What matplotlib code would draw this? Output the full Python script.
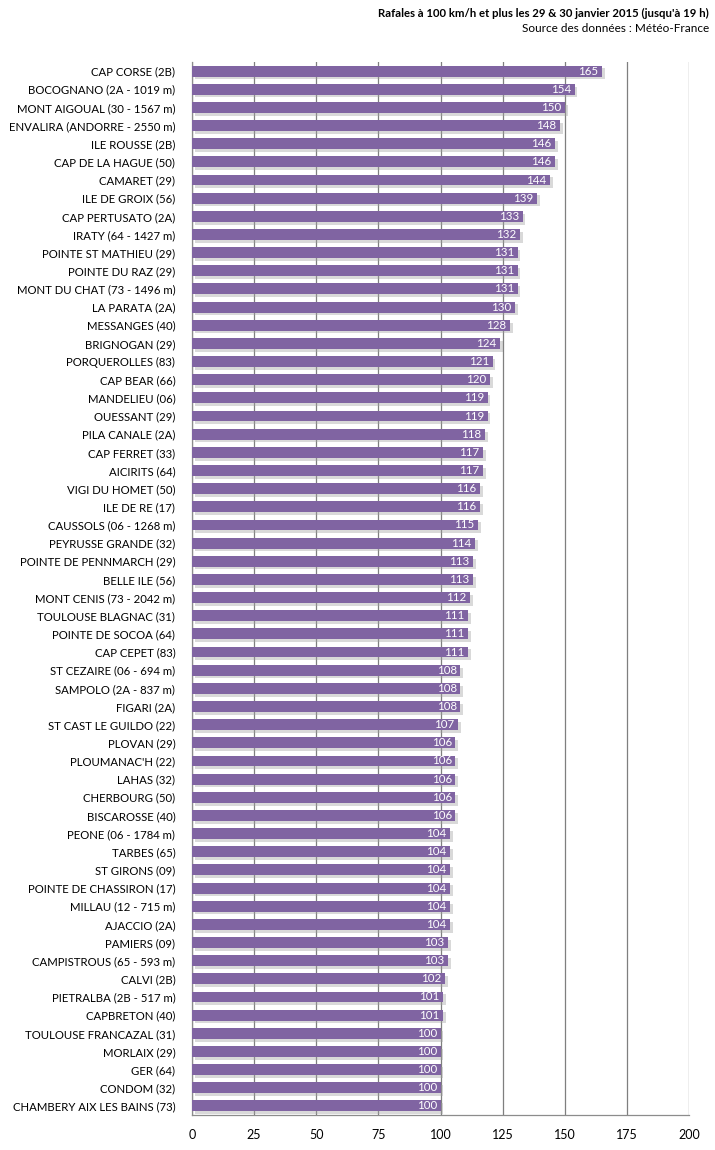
import matplotlib
matplotlib.use("Agg")
import matplotlib.pyplot as plt
import matplotlib.patheffects as pe

stations = [
    "CAP CORSE (2B)", "BOCOGNANO (2A - 1019 m)", "MONT AIGOUAL (30 - 1567 m)",
    "ENVALIRA (ANDORRE - 2550 m)", "ILE ROUSSE (2B)", "CAP DE LA HAGUE (50)",
    "CAMARET (29)", "ILE DE GROIX (56)", "CAP PERTUSATO (2A)", "IRATY (64 - 1427 m)",
    "POINTE ST MATHIEU (29)", "POINTE DU RAZ (29)", "MONT DU CHAT (73 - 1496 m)",
    "LA PARATA (2A)", "MESSANGES (40)", "BRIGNOGAN (29)", "PORQUEROLLES (83)",
    "CAP BEAR (66)", "MANDELIEU (06)", "OUESSANT (29)", "PILA CANALE (2A)",
    "CAP FERRET (33)", "AICIRITS (64)", "VIGI DU HOMET (50)", "ILE DE RE (17)",
    "CAUSSOLS (06 - 1268 m)", "PEYRUSSE GRANDE (32)", "POINTE DE PENNMARCH (29)",
    "BELLE ILE (56)", "MONT CENIS (73 - 2042 m)", "TOULOUSE BLAGNAC (31)",
    "POINTE DE SOCOA (64)", "CAP CEPET (83)", "ST CEZAIRE (06 - 694 m)",
    "SAMPOLO (2A - 837 m)", "FIGARI (2A)", "ST CAST LE GUILDO (22)", "PLOVAN (29)",
    "PLOUMANAC'H (22)", "LAHAS (32)", "CHERBOURG (50)", "BISCAROSSE (40)",
    "PEONE (06 - 1784 m)", "TARBES (65)", "ST GIRONS (09)", "POINTE DE CHASSIRON (17)",
    "MILLAU (12 - 715 m)", "AJACCIO (2A)", "PAMIERS (09)", "CAMPISTROUS (65 - 593 m)",
    "CALVI (2B)", "PIETRALBA (2B - 517 m)", "CAPBRETON (40)", "TOULOUSE FRANCAZAL (31)",
    "MORLAIX (29)", "GER (64)", "CONDOM (32)", "CHAMBERY AIX LES BAINS (73)",
]
gusts = [
    165, 154, 150, 148, 146, 146, 144, 139, 133, 132, 131, 131, 131, 130, 128, 124,
    121, 120, 119, 119, 118, 117, 117, 116, 116, 115, 114, 113, 113, 112, 111, 111,
    111, 108, 108, 108, 107, 106, 106, 106, 106, 106, 104, 104, 104, 104, 104, 104,
    103, 103, 102, 101, 101, 100, 100, 100, 100, 100,
]
xticks = [0, 25, 50, 75, 100, 125, 150, 175, 200]

title = "Rafales à 100 km/h et plus les 29 & 30 janvier 2015 (jusqu'à 19 h)"
source = "Source des données : Météo-France"

plt.rcParams['font.family'] = ['Lato', 'DejaVu Sans']

fig = plt.figure(figsize=(7.15, 11.5), dpi=100)
ax = fig.add_axes([192/715, 1 - 1115/1150, 497/715, (1115 - 62)/1150])

y = list(range(len(stations)))
bars = ax.barh(y, gusts, height=0.6, color="#8064A2", zorder=3)
for b in bars:
    b.set_path_effects([pe.SimplePatchShadow(offset=(2, -2), shadow_rgbFace="#a0a0a0", alpha=0.4),
                        pe.Normal()])

for yi, v in zip(y, gusts):
    ax.text(v - 1.5, yi, str(v), ha="right", va="center", color="white",
            fontsize=8.3, zorder=4)

ax.set_xlim(0, 200)
ax.set_ylim(len(stations) - 0.5, -0.5)
ax.set_xticks(xticks)
ax.set_xticklabels([str(t) for t in xticks], fontsize=9)
ax.set_yticks(y)
ax.set_yticklabels(stations, fontsize=8.2)
ax.tick_params(axis="y", length=0, pad=12)
ax.tick_params(axis="x", length=0, pad=10)

ax.grid(axis="x", color="#7f7f7f", linewidth=0.9, zorder=0)
for s in ["top", "right"]:
    ax.spines[s].set_visible(False)
for s in ["left", "bottom"]:
    ax.spines[s].set_color("#8c8c8c")
    ax.spines[s].set_linewidth(0.9)

fig.text(709/715, 1 - 13/1150, title, ha="right", va="center", fontsize=8.2, fontweight="bold")
fig.text(709/715, 1 - 28/1150, source, ha="right", va="center", fontsize=8.5)

fig.savefig("out.png", dpi=100)
